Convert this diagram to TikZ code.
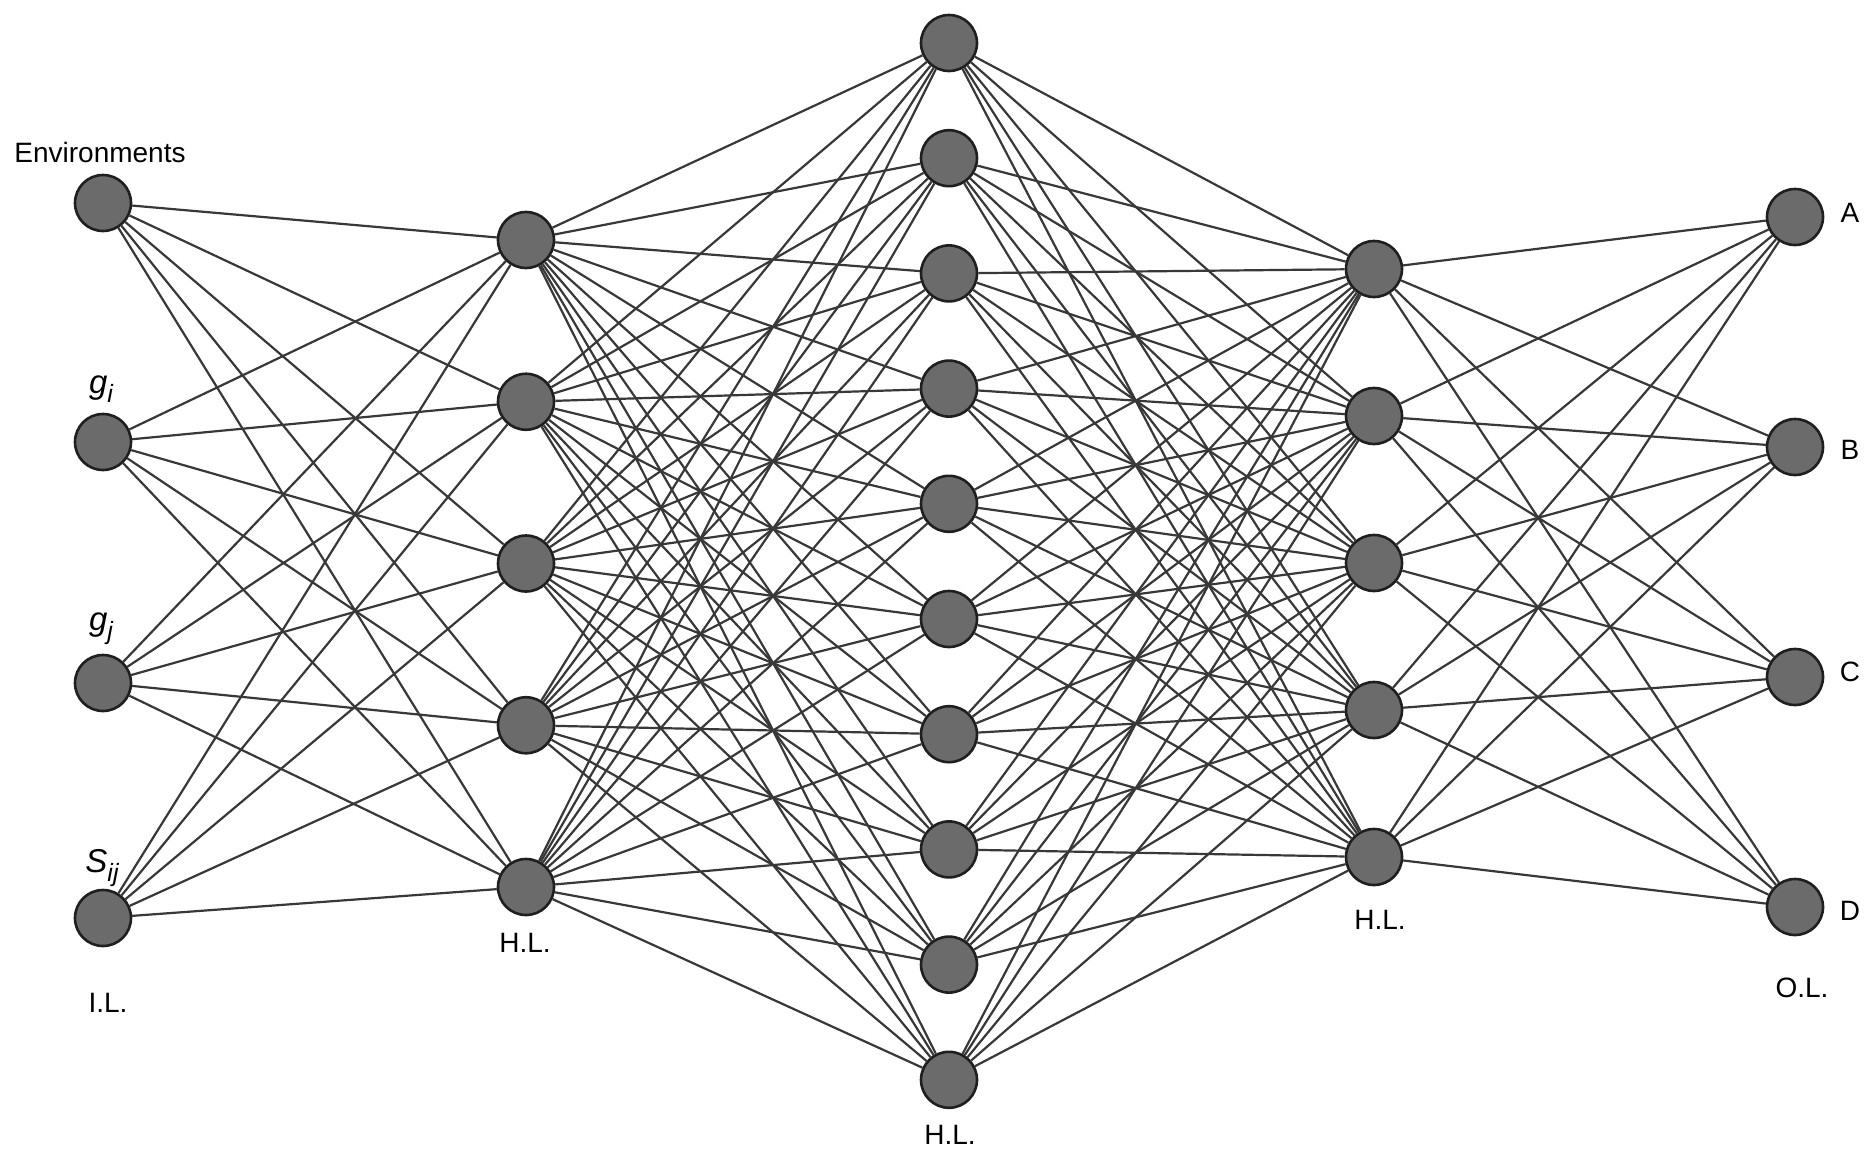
\documentclass[tikz,border=0pt]{standalone}
\usepackage{fontspec}
\setmainfont{Liberation Sans}
\begin{document}
\begin{tikzpicture}[x=1pt,y=-1pt,
  neuron/.style={circle,draw=black!88,line width=2.6pt,fill=black!58,minimum size=56pt,inner sep=0pt},
  wire/.style={draw=black!78,line width=2.2pt},
  lbl/.style={inner sep=0pt,font=\fontsize{28}{32}\selectfont},
  sym/.style={inner sep=0pt,font=\fontsize{33}{36}\selectfont\itshape}]
\useasboundingbox[fill=white] (0,0) rectangle (1868,1165);
% layers
\foreach \i/\y in {1/203,2/442,3/683,4/918} \node[neuron] (a\i) at (103,\y) {};
\foreach \i in {1,...,5} \node[neuron] (b\i) at (526,{240+(\i-1)*161.75}) {};
\foreach \i in {1,...,10} \node[neuron] (c\i) at (949,{43+(\i-1)*115.2}) {};
\foreach \i in {1,...,5} \node[neuron] (d\i) at (1374,{269+(\i-1)*147}) {};
\foreach \i in {1,...,4} \node[neuron] (e\i) at (1795,{217+(\i-1)*230}) {};
% connections
\foreach \i in {1,...,4} \foreach \j in {1,...,5} \draw[wire] (a\i) -- (b\j);
\foreach \i in {1,...,5} \foreach \j in {1,...,10} \draw[wire] (b\i) -- (c\j);
\foreach \i in {1,...,10} \foreach \j in {1,...,5} \draw[wire] (c\i) -- (d\j);
\foreach \i in {1,...,5} \foreach \j in {1,...,4} \draw[wire] (d\i) -- (e\j);
% labels
\node[lbl] (tenv) at (100,152) {Environments};
\node[sym] (tgi) at (101,389) {g\raisebox{-0.28em}{\fontsize{25}{25}\selectfont i}};
\node[sym] (tgj) at (101,629) {g\raisebox{-0.28em}{\fontsize{25}{25}\selectfont j}};
\node[sym] (tsij) at (102,868) {S\raisebox{-0.28em}{\fontsize{25}{25}\selectfont ij}};
\node[lbl] (til) at (108,1003) {I.L.};
\node[lbl] (th1) at (525,943) {H.L.};
\node[lbl] (th2) at (950,1135) {H.L.};
\node[lbl] (th3) at (1380,920) {H.L.};
\node[lbl] (tol) at (1802,988) {O.L.};
\node[lbl] (tA) at (1850,213) {A};
\node[lbl] (tB) at (1850,450) {B};
\node[lbl] (tC) at (1850,672) {C};
\node[lbl] (tD) at (1850,911) {D};
\end{tikzpicture}
\end{document}
